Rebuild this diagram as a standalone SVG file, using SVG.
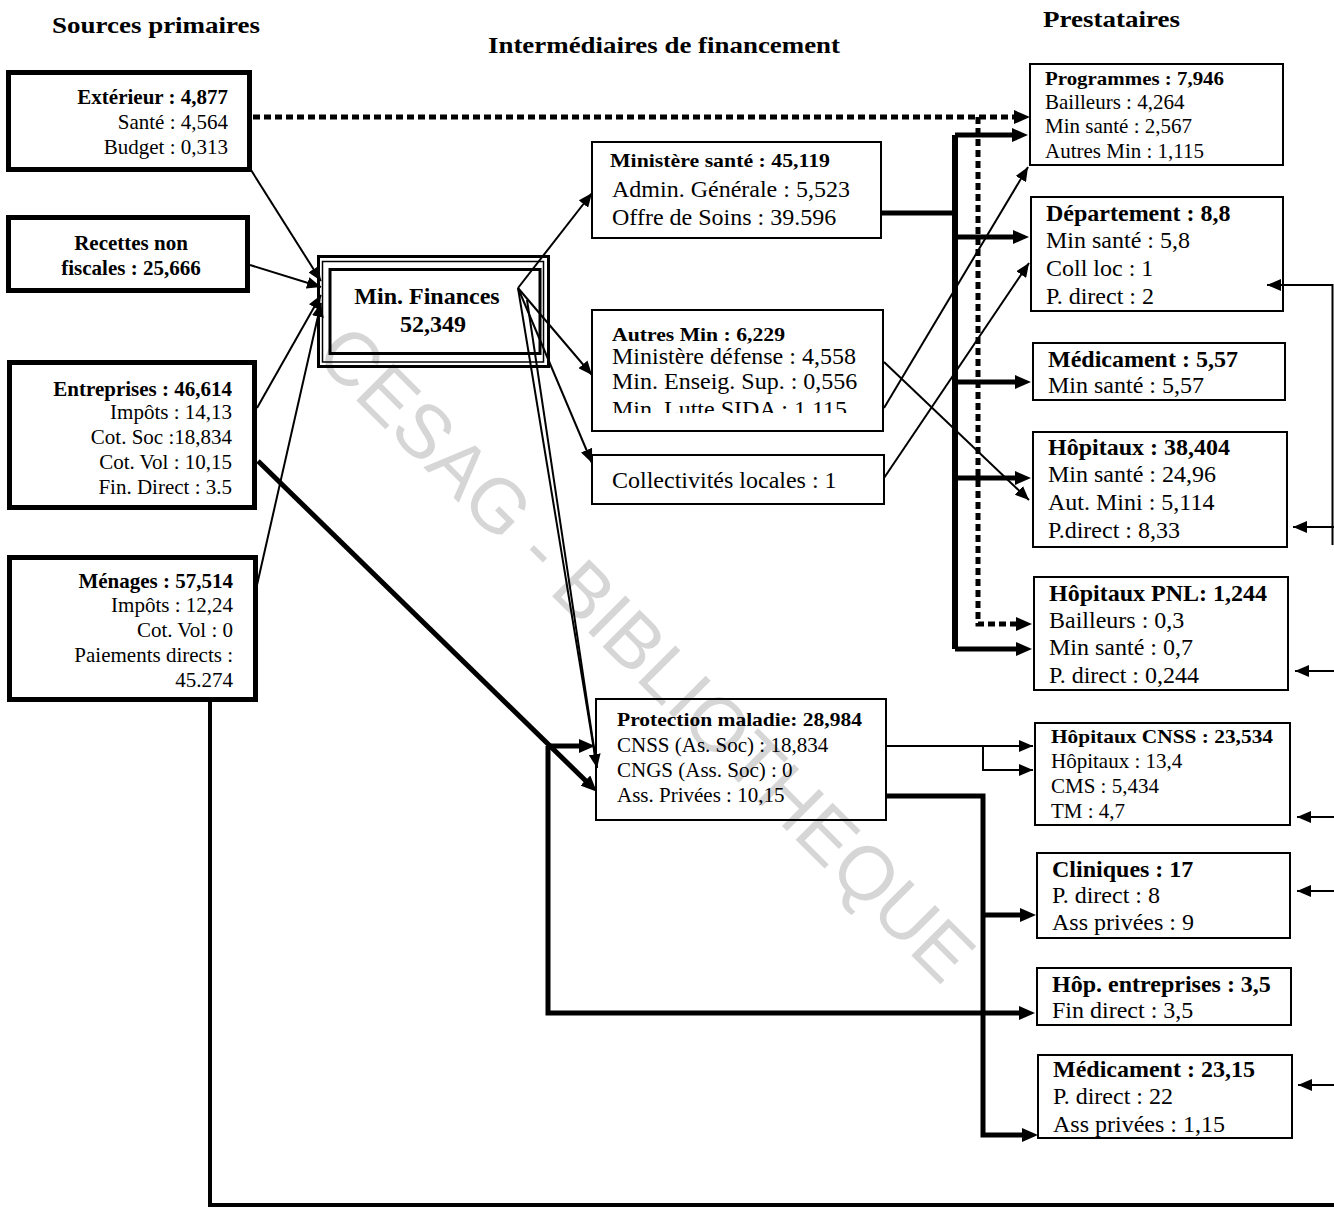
<svg xmlns="http://www.w3.org/2000/svg" width="1334" height="1209" viewBox="0 0 1334 1209">
  <style>
    .t{font-family:"Liberation Serif","Times New Roman",serif;fill:#000}
    .b{font-weight:bold}
    .s21{font-size:21px}
    .s24{font-size:24px}
    .h{font-family:"Liberation Serif","Times New Roman",serif;font-weight:bold;font-size:24px}
    .box{fill:none;stroke:#000;stroke-width:2}
    .src{fill:none;stroke:#000;stroke-width:5}
    .thin{fill:none;stroke:#000;stroke-width:2}
    .thick{fill:none;stroke:#000;stroke-width:5}
    .dash{fill:none;stroke:#000;stroke-width:5;stroke-dasharray:7 4}
    .wm{font-family:"Liberation Sans",Arial,sans-serif;font-size:76px;fill:#d6d6d6}
  </style>
  <defs>
    <!-- large head for thick flows: tip sits 11px past the path end -->
    <marker id="aT" markerUnits="userSpaceOnUse" markerWidth="16" markerHeight="14" refX="5" refY="7" orient="auto">
      <path d="M0,0 L16,7 L0,14 z" fill="#000"/>
    </marker>
    <!-- small head for thin flows: tip at the path end -->
    <marker id="aS" markerUnits="userSpaceOnUse" markerWidth="14" markerHeight="12" refX="14" refY="6" orient="auto">
      <path d="M0,0 L14,6 L0,12 z" fill="#000"/>
    </marker>
    <clipPath id="amClip">
      <rect x="592" y="300" width="292" height="113"/>
    </clipPath>
  </defs>

  <rect width="1334" height="1209" fill="#fff"/>

  <!-- library stamp -->
  <text class="wm" x="628" y="672" text-anchor="middle" textLength="890" lengthAdjust="spacingAndGlyphs" transform="rotate(45 628 672)">CESAG - BIBLIOTHEQUE</text>

  <!-- column headings -->
  <g id="headings">
    <text class="h" x="52" y="33" textLength="208" lengthAdjust="spacingAndGlyphs">Sources primaires</text>
    <text class="h" x="488" y="53" textLength="352" lengthAdjust="spacingAndGlyphs">Intermédiaires de financement</text>
    <text class="h" x="1043" y="27" textLength="137" lengthAdjust="spacingAndGlyphs">Prestataires</text>
  </g>

  <!-- connectors -->
  <g id="connectors">
    <!-- sources into Min. Finances -->
    <line class="thin" x1="251" y1="170" x2="321" y2="281" marker-end="url(#aS)"/>
    <line class="thin" x1="250" y1="265" x2="321" y2="287" marker-end="url(#aS)"/>
    <line class="thin" x1="257" y1="408" x2="321" y2="295" marker-end="url(#aS)"/>
    <line class="thin" x1="257" y1="585" x2="321" y2="303" marker-end="url(#aS)"/>

    <!-- Min. Finances out -->
    <line class="thin" x1="518" y1="288" x2="592" y2="193" marker-end="url(#aS)"/>
    <line class="thin" x1="518" y1="288" x2="592" y2="375" marker-end="url(#aS)"/>
    <line class="thin" x1="518" y1="288" x2="592" y2="463" marker-end="url(#aS)"/>
    <line class="thin" x1="518" y1="288" x2="597" y2="768" marker-end="url(#aS)"/>
    <line class="thin" x1="527" y1="300" x2="597" y2="768"/>

    <!-- external funds (dotted) -->
    <path class="dash" d="M253,117 H1019" marker-end="url(#aT)"/>
    <path class="dash" d="M978,117 V624 H1021" marker-end="url(#aT)"/>

    <!-- Ministère santé distribution -->
    <path class="thick" d="M882,213 H955"/>
    <path class="thick" d="M955,135 V649" style="stroke-width:6"/>
    <path class="thick" d="M955,135 H1017" marker-end="url(#aT)"/>
    <path class="thick" d="M955,237 H1018" marker-end="url(#aT)"/>
    <path class="thick" d="M955,382 H1020" marker-end="url(#aT)"/>
    <path class="thick" d="M955,478 H1020" marker-end="url(#aT)"/>
    <path class="thick" d="M955,649 H1021" marker-end="url(#aT)"/>

    <!-- Autres Min / Collectivités -->
    <line class="thin" x1="884" y1="408" x2="1028" y2="167" marker-end="url(#aS)"/>
    <line class="thin" x1="884" y1="362" x2="1029" y2="500" marker-end="url(#aS)"/>
    <line class="thin" x1="884" y1="478" x2="1029" y2="263" marker-end="url(#aS)"/>

    <!-- Entreprises to Protection maladie and Hôp. entreprises -->
    <line class="thick" x1="258" y1="461" x2="589" y2="784" marker-end="url(#aT)"/>
    <path class="thick" d="M548,746 H584" marker-end="url(#aT)"/>
    <path class="thick" d="M548,746 V1013 H1024" marker-end="url(#aT)"/>

    <!-- Protection maladie out -->
    <path class="thin" d="M887,746 H1033" marker-end="url(#aS)"/>
    <path class="thin" d="M983,746 V770 H1033" marker-end="url(#aS)"/>
    <path class="thick" d="M887,796 H983 V1135 H1027" marker-end="url(#aT)"/>
    <path class="thick" d="M983,915 H1025" marker-end="url(#aT)"/>

    <!-- household direct payments -->
    <path class="thick" d="M210,700 V1205 H1334" style="stroke-width:4"/>
    <path class="thin" d="M1332.5,284 V545"/>
    <path class="thin" d="M1333,285 H1267" marker-end="url(#aS)"/>
    <path class="thin" d="M1334,527 H1293" marker-end="url(#aS)"/>
    <path class="thin" d="M1334,671 H1295" marker-end="url(#aS)"/>
    <path class="thin" d="M1334,817 H1297" marker-end="url(#aS)"/>
    <path class="thin" d="M1334,891 H1297" marker-end="url(#aS)"/>
    <path class="thin" d="M1334,1085 H1298" marker-end="url(#aS)"/>
  </g>

  <!-- primary sources -->
  <g id="exterieur">
    <rect class="src" x="8.5" y="72.5" width="241" height="97"/>
    <text class="t s21" text-anchor="end" x="228" y="104"><tspan class="b">Extérieur : 4,877</tspan></text>
    <text class="t s21" text-anchor="end" x="228" y="129">Santé : 4,564</text>
    <text class="t s21" text-anchor="end" x="228" y="154">Budget : 0,313</text>
  </g>
  <g id="recettes">
    <rect class="src" x="8.5" y="217.5" width="239" height="73"/>
    <text class="t s21 b" text-anchor="middle" x="131" y="250">Recettes non</text>
    <text class="t s21 b" text-anchor="middle" x="131" y="275">fiscales : 25,666</text>
  </g>
  <g id="entreprises">
    <rect class="src" x="9.5" y="362.5" width="245" height="145"/>
    <text class="t s21 b" text-anchor="end" x="232" y="396">Entreprises : 46,614</text>
    <text class="t s21" text-anchor="end" x="232" y="419">Impôts : 14,13</text>
    <text class="t s21" text-anchor="end" x="232" y="444">Cot. Soc :18,834</text>
    <text class="t s21" text-anchor="end" x="232" y="469">Cot. Vol : 10,15</text>
    <text class="t s21" text-anchor="end" x="232" y="494">Fin. Direct : 3.5</text>
  </g>
  <g id="menages">
    <rect class="src" x="9.5" y="557.5" width="246" height="142"/>
    <text class="t s21 b" text-anchor="end" x="233" y="588">Ménages : 57,514</text>
    <text class="t s21" text-anchor="end" x="233" y="612">Impôts : 12,24</text>
    <text class="t s21" text-anchor="end" x="233" y="637">Cot. Vol : 0</text>
    <text class="t s21" text-anchor="end" x="233" y="662">Paiements directs :</text>
    <text class="t s21" text-anchor="end" x="233" y="687">45.274</text>
  </g>

  <!-- financing agents -->
  <g id="min-finances">
    <rect x="318.5" y="256.5" width="230" height="110" fill="none" stroke="#000" stroke-width="3"/>
    <rect x="322.5" y="261.5" width="221" height="100.5" fill="none" stroke="#000" stroke-width="1.5"/>
    <rect x="330" y="269.5" width="210" height="84" fill="none" stroke="#000" stroke-width="3"/>
    <text class="t b" style="font-size:24px" text-anchor="middle" x="427" y="304">Min. Finances</text>
    <text class="t b" style="font-size:24px" text-anchor="middle" x="433" y="332">52,349</text>
  </g>
  <g id="ministere-sante">
    <rect class="box" x="592" y="142" width="289" height="96"/>
    <text class="t b" style="font-size:19px" x="610" y="167" textLength="220" lengthAdjust="spacingAndGlyphs">Ministère santé : 45,119</text>
    <text class="t s24" x="612" y="197">Admin. Générale : 5,523</text>
    <text class="t s24" x="612" y="225">Offre de Soins : 39.596</text>
  </g>
  <g id="autres-min">
    <rect class="box" x="592" y="310" width="291" height="121"/>
    <text class="t b" style="font-size:19px" x="612" y="341" textLength="173" lengthAdjust="spacingAndGlyphs">Autres Min : 6,229</text>
    <text class="t s24" x="612" y="364">Ministère défense : 4,558</text>
    <text class="t s24" x="612" y="389">Min. Enseig. Sup. : 0,556</text>
    <text class="t s24" x="612" y="417" clip-path="url(#amClip)">Min. Lutte SIDA : 1,115</text>
  </g>
  <g id="collectivites">
    <rect class="box" x="592" y="455" width="292" height="49"/>
    <text class="t s24" x="612" y="488">Collectivités locales : 1</text>
  </g>
  <g id="protection-maladie">
    <rect class="box" x="596" y="699" width="290" height="121"/>
    <text class="t b" style="font-size:19px" x="617" y="726" textLength="245" lengthAdjust="spacingAndGlyphs">Protection maladie: 28,984</text>
    <text class="t s21" x="617" y="752">CNSS (As. Soc) : 18,834</text>
    <text class="t s21" x="617" y="777">CNGS (Ass. Soc) : 0</text>
    <text class="t s21" x="617" y="802">Ass. Privées : 10,15</text>
  </g>

  <!-- providers -->
  <g id="programmes">
    <rect class="box" x="1030" y="64" width="253" height="101"/>
    <text class="t b" style="font-size:19px" x="1045" y="85" textLength="179" lengthAdjust="spacingAndGlyphs">Programmes : 7,946</text>
    <text class="t s21" x="1045" y="109">Bailleurs : 4,264</text>
    <text class="t s21" x="1045" y="133">Min santé : 2,567</text>
    <text class="t s21" x="1045" y="158">Autres Min : 1,115</text>
  </g>
  <g id="departement">
    <rect class="box" x="1031" y="197" width="252" height="114"/>
    <text class="t s24 b" x="1046" y="221">Département : 8,8</text>
    <text class="t s24" x="1046" y="248">Min santé : 5,8</text>
    <text class="t s24" x="1046" y="276">Coll loc : 1</text>
    <text class="t s24" x="1046" y="304">P. direct : 2</text>
  </g>
  <g id="medicament-1">
    <rect class="box" x="1033" y="343" width="252" height="57"/>
    <text class="t s24 b" x="1048" y="367">Médicament : 5,57</text>
    <text class="t s24" x="1048" y="393">Min santé : 5,57</text>
  </g>
  <g id="hopitaux">
    <rect class="box" x="1033" y="432" width="254" height="115"/>
    <text class="t s24 b" x="1048" y="455">Hôpitaux : 38,404</text>
    <text class="t s24" x="1048" y="482">Min santé : 24,96</text>
    <text class="t s24" x="1048" y="510">Aut. Mini : 5,114</text>
    <text class="t s24" x="1048" y="538">P.direct : 8,33</text>
  </g>
  <g id="hopitaux-pnl">
    <rect class="box" x="1034" y="577" width="254" height="113"/>
    <text class="t s24 b" x="1049" y="601">Hôpitaux PNL: 1,244</text>
    <text class="t s24" x="1049" y="628">Bailleurs : 0,3</text>
    <text class="t s24" x="1049" y="655">Min santé : 0,7</text>
    <text class="t s24" x="1049" y="683">P. direct : 0,244</text>
  </g>
  <g id="hopitaux-cnss">
    <rect class="box" x="1035" y="723" width="255" height="102"/>
    <text class="t b" style="font-size:19px" x="1051" y="743" textLength="222" lengthAdjust="spacingAndGlyphs">Hôpitaux CNSS : 23,534</text>
    <text class="t s21" x="1051" y="768">Hôpitaux : 13,4</text>
    <text class="t s21" x="1051" y="793">CMS : 5,434</text>
    <text class="t s21" x="1051" y="818">TM : 4,7</text>
  </g>
  <g id="cliniques">
    <rect class="box" x="1037" y="853" width="253" height="85"/>
    <text class="t s24 b" x="1052" y="877">Cliniques : 17</text>
    <text class="t s24" x="1052" y="903">P. direct : 8</text>
    <text class="t s24" x="1052" y="930">Ass privées : 9</text>
  </g>
  <g id="hop-entreprises">
    <rect class="box" x="1037" y="968" width="254" height="57"/>
    <text class="t s24 b" x="1052" y="992">Hôp. entreprises : 3,5</text>
    <text class="t s24" x="1052" y="1018">Fin direct : 3,5</text>
  </g>
  <g id="medicament-2">
    <rect class="box" x="1038" y="1055" width="254" height="83"/>
    <text class="t s24 b" x="1053" y="1077">Médicament : 23,15</text>
    <text class="t s24" x="1053" y="1104">P. direct : 22</text>
    <text class="t s24" x="1053" y="1132">Ass privées : 1,15</text>
  </g>
</svg>
